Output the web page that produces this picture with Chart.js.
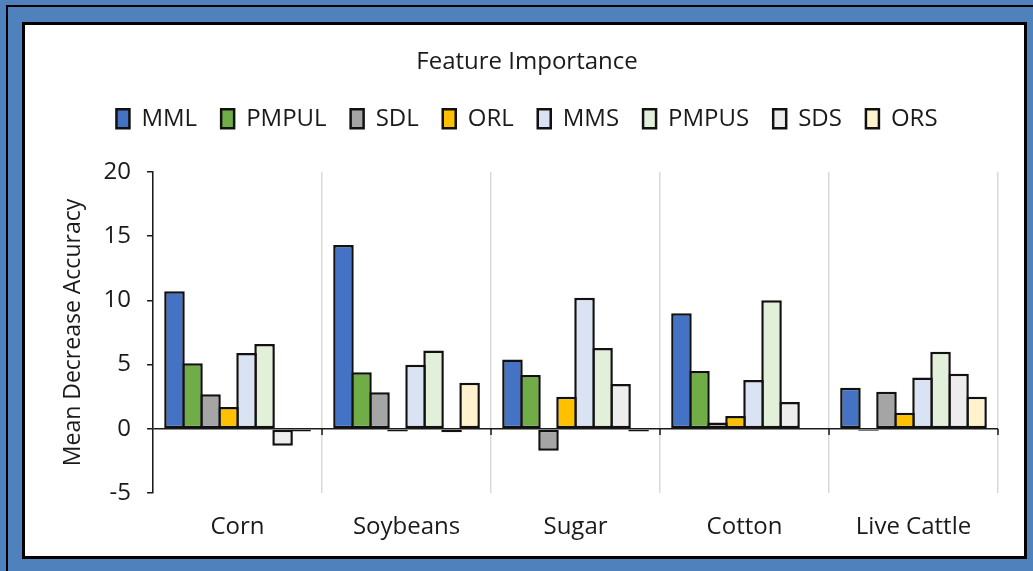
<!DOCTYPE html>
<html>
<head>
<meta charset="utf-8">
<script src="https://cdn.jsdelivr.net/npm/chart.js@4/dist/chart.umd.min.js"></script>
<style>
  html, body { margin: 0; padding: 0; }
  body { width: 1033px; height: 571px; background: #4F81BD; position: relative; overflow: hidden; }
  #outer { position: absolute; left: 6px; top: 5px; width: 1100px; height: 700px; border-top: 2px solid #000; border-left: 2px solid #000; }
  #panel { position: absolute; left: 22px; top: 22px; width: 1005px; height: 537px; box-sizing: border-box; border: 3px solid #000; background: #fff; }
  canvas { display: block; }
</style>
</head>
<body>
<div id="outer"></div>
<div id="panel"><canvas id="c" width="999" height="531"></canvas></div>
<script>
const categories = ['Corn', 'Soybeans', 'Sugar', 'Cotton', 'Live Cattle'];
const seriesNames = ['MML', 'PMPUL', 'SDL', 'ORL', 'MMS', 'PMPUS', 'SDS', 'ORS'];
const MML   = [10.7, 14.3, 5.4, 9.0, 3.2];
const PMPUL = [5.1, 4.4, 4.2, 4.5, -0.15];
const SDL   = [2.7, 2.85, -1.7, 0.5, 2.9];
const ORL   = [1.7, -0.2, 2.5, 1.0, 1.25];
const MMS   = [5.9, 5.0, 10.2, 3.8, 4.0];
const PMPUS = [6.6, 6.1, 6.3, 10.0, 6.0];
const SDS   = [-1.3, -0.25, 3.5, 2.1, 4.3];
const ORS   = [-0.2, 3.6, -0.2, 0.05, 2.5];
const yTicks = [-5, 0, 5, 10, 15, 20];
const seriesColors = ['#4472C4', '#70AD47', '#A5A5A5', '#FFC000', '#DAE3F3', '#E2F0D9', '#EDEDED', '#FFF2CC'];
const seriesValues = [MML, PMPUL, SDL, ORL, MMS, PMPUS, SDS, ORS];

const FONT = "'Open Sans', sans-serif";
const TEXT = '#1a1a1a';

const zeroTicks = {
  id: 'zeroTicks',
  afterDatasetsDraw(chart) {
    const x = chart.scales.x, y = chart.scales.y;
    const y0 = y.getPixelForValue(0);
    const n = categories.length;
    const ctx = chart.ctx;
    ctx.save();
    ctx.strokeStyle = '#1a1a1a';
    ctx.lineWidth = 1.5;
    for (let i = 1; i <= n; i++) {
      const px = x.left + (x.right - x.left) * i / n;
      ctx.beginPath();
      ctx.moveTo(px, y0);
      ctx.lineTo(px, y0 + 6);
      ctx.stroke();
    }
    ctx.restore();
  }
};

const legendGap = {
  id: 'legendGap',
  beforeInit(chart) {
    const origFit = chart.legend.fit;
    chart.legend.fit = function () {
      origFit.bind(chart.legend)();
      this.height += 31;
    };
  }
};

new Chart(document.getElementById('c'), {
  type: 'bar',
  data: {
    labels: categories,
    datasets: seriesNames.map((name, i) => ({
      label: name,
      data: seriesValues[i],
      backgroundColor: seriesColors[i],
      borderColor: '#111',
      borderWidth: 2.5,
      borderSkipped: false,
      categoryPercentage: 0.853,
      barPercentage: 1.14
    }))
  },
  options: {
    responsive: false,
    animation: false,
    layout: { padding: { left: 31, right: 26, top: 0, bottom: -6 } },
    plugins: {
      title: {
        display: true,
        text: 'Feature Importance',
        color: TEXT,
        font: { family: FONT, size: 24, weight: 'normal' },
        padding: { top: 23, bottom: 6 }
      },
      legend: {
        display: true,
        position: 'top',
        labels: {
          color: TEXT,
          font: { family: FONT, size: 24 },
          boxWidth: 13,
          boxHeight: 19,
          padding: 24
        }
      },
      tooltip: { enabled: false }
    },
    scales: {
      x: {
        offset: true,
        grid: { color: '#d9d9d9', lineWidth: 1.5, drawTicks: false, offset: true },
        border: { display: false },
        ticks: { color: TEXT, font: { family: FONT, size: 24 }, padding: 20, maxRotation: 0 }
      },
      y: {
        min: -5,
        max: 20,
        afterBuildTicks(scale) { scale.ticks = yTicks.map(v => ({ value: v })); },
        grid: {
          color: ctx => (ctx.tick && ctx.tick.value === 0) ? '#1a1a1a' : 'rgba(0,0,0,0)',
          lineWidth: 1.5,
          tickColor: '#1a1a1a',
          tickLength: 6
        },
        border: { display: true, color: '#1a1a1a', width: 1.5 },
        ticks: { color: TEXT, font: { family: FONT, size: 24 }, padding: 16 },
        title: {
          display: true,
          text: 'Mean Decrease Accuracy',
          color: TEXT,
          font: { family: FONT, size: 23 },
          padding: { top: 4, bottom: 0 }
        }
      }
    }
  },
  plugins: [zeroTicks, legendGap]
});
</script>
</body>
</html>
